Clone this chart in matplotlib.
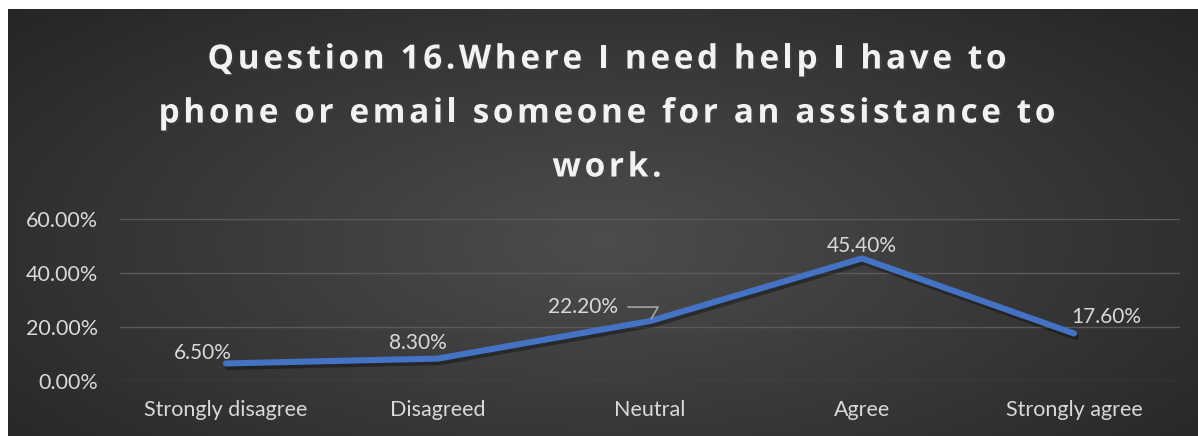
import numpy as np
import matplotlib.pyplot as plt
import matplotlib.patheffects as pe
from matplotlib.ticker import FuncFormatter

# Data
categories = ["Strongly disagree", "Disagreed", "Neutral", "Agree", "Strongly agree"]
values = [6.5, 8.3, 22.2, 45.4, 17.6]
value_labels = ["6.50%", "8.30%", "22.20%", "45.40%", "17.60%"]
title_lines = ["Question 16.Where I need help I have to",
               "phone or email someone for an assistance to",
               "work."]

W, H = 1198, 436
fig = plt.figure(figsize=(W / 100, H / 100), dpi=100)
fig.patch.set_facecolor("white")

# Dark radial-gradient backdrop (Excel chart style)
bg = fig.add_axes([8 / W, 0, 1 - 8 / W, 1 - 9 / H])
bg.set_axis_off()
yy, xx = np.mgrid[0:1:300j, 0:1:800j]
r = np.sqrt(((xx - 0.5) / 0.75) ** 2 + ((yy - 0.45) / 0.9) ** 2)
shade = np.clip(0.30 - 0.17 * r, 0.13, 0.30)
bg.imshow(np.dstack([shade] * 3), aspect="auto", extent=[0, 1, 0, 1], origin="lower")

# Plot area
ax = fig.add_axes([120 / W, (H - 381) / H, 1060 / W, 162 / H])
ax.patch.set_alpha(0)
x = np.arange(len(categories))
ax.plot(x, values, color="#4472C4", lw=4.4, solid_capstyle="round", zorder=3,
        path_effects=[pe.SimpleLineShadow(offset=(1.5, -2.5), alpha=0.35, shadow_color="black"),
                      pe.Normal()])

ax.set_xlim(-0.5, len(categories) - 0.5)
ax.set_ylim(0, 60)
ax.set_yticks([0, 20, 40, 60])
ax.yaxis.set_major_formatter(FuncFormatter(lambda v, p: f"{v:.2f}%"))
ax.set_xticks(x)
ax.set_xticklabels(categories)
ax.grid(axis="y", color="#5a5a5a", lw=1)
ax.set_axisbelow(True)
for s in ax.spines.values():
    s.set_visible(False)
ax.tick_params(length=0, labelsize=15.5, labelcolor="#d9d9d9")
ax.tick_params(axis="x", pad=14)
ax.tick_params(axis="y", pad=16)
for t in ax.get_xticklabels() + ax.get_yticklabels():
    t.set_family("Lato")

# Data labels (offsets in pixels)
offsets = [(-23, 10), (-20, 16), (-67, 14), (0, 12), (32, 16)]
for i, (v, lab) in enumerate(zip(values, value_labels)):
    ax.annotate(lab, (x[i], v), xytext=offsets[i], textcoords="offset pixels",
                ha="center", va="center", fontsize=15, color="#d9d9d9", family="Lato")
# leader line for Neutral label
ax.annotate("", (x[2], values[2]), xytext=(-22, 14), textcoords="offset pixels",
            arrowprops=dict(arrowstyle="-", color="#a6a6a6", lw=1.2, shrinkA=0, shrinkB=2,
                            connectionstyle="angle,angleA=0,angleB=60,rad=0"))

# Title with extra letter spacing, laid out char by char
renderer = fig.canvas.get_renderer()
tstyle = dict(fontsize=24, fontweight="bold", color="#f2f2f2", family="Open Sans")
shadow = [pe.withSimplePatchShadow(offset=(1.5, -1.5), alpha=0.4)]


def char_width(c):
    if c == " ":
        w2 = char_width("aa")
        t = fig.text(0, 0, "a a", **tstyle)
        w = t.get_window_extent(renderer).width - w2
        t.remove()
        return w
    t = fig.text(0, 0, c, **tstyle)
    w = t.get_window_extent(renderer).width
    t.remove()
    return w


spacing = 3.6
cx = (8 + W) / 2 + 4
for line, ypix in zip(title_lines, [56, 110, 164]):
    widths = [char_width(c) for c in line]
    total = sum(widths) + spacing * (len(line) - 1)
    xp = cx - total / 2
    for c, w in zip(line, widths):
        if c != " ":
            fig.text(xp / W, 1 - ypix / H, c, ha="left", va="center_baseline",
                     path_effects=shadow, **tstyle)
        xp += w + spacing

fig.savefig("out.png", dpi=100, facecolor=fig.get_facecolor())
